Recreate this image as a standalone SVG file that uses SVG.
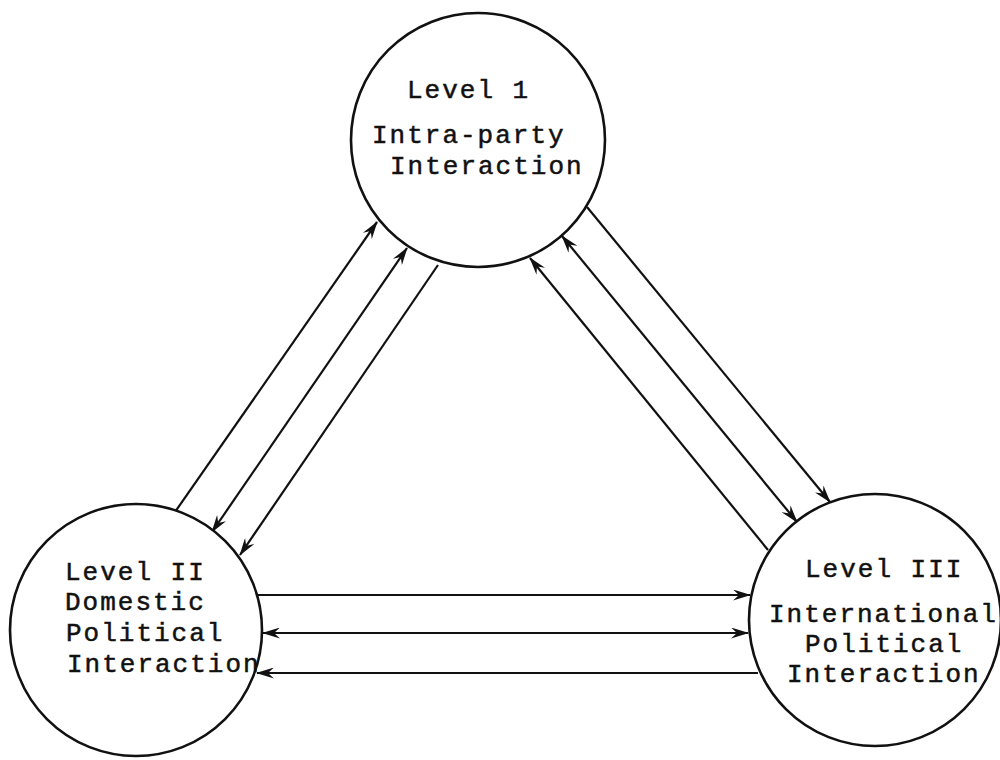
<svg xmlns="http://www.w3.org/2000/svg" width="1000" height="760" viewBox="0 0 1000 760">
<style>
.node circle{fill:#fff;stroke:#111;stroke-width:2.6}
.node text{font-family:"Liberation Mono","Courier New",monospace;font-size:26px;letter-spacing:2px;fill:#111;stroke:#111;stroke-width:0.5}
.conn line{stroke:#111;stroke-width:2.2;fill:none}
.e{marker-end:url(#ah)}
.b{marker-start:url(#ah);marker-end:url(#ah)}
</style>
<defs>
<marker id="ah" viewBox="0 0 18 11" refX="17" refY="5.5" markerUnits="userSpaceOnUse" markerWidth="18" markerHeight="11" orient="auto-start-reverse">
<path d="M0,0 L18,5.5 L0,11 L6,5.5 Z" fill="#111"/>
</marker>
</defs>
<rect width="1000" height="760" fill="#fff"/>
<g id="connectors" class="conn">
<line class="e" x1="175" y1="512" x2="377" y2="222"/>
<line class="b" x1="212" y1="532" x2="407" y2="248"/>
<line class="e" x1="438" y1="265" x2="240" y2="555"/>
<line class="e" x1="587" y1="207" x2="830" y2="502"/>
<line class="b" x1="797" y1="522" x2="562" y2="236"/>
<line class="e" x1="768" y1="550" x2="530" y2="258"/>
<line class="e" x1="258" y1="595" x2="750" y2="595"/>
<line class="b" x1="263" y1="633" x2="748" y2="633"/>
<line class="e" x1="758" y1="673" x2="257" y2="673"/>
</g>
<g id="level1" class="node">
<circle cx="478" cy="140" r="127"/>
<text x="407" y="98">Level 1</text>
<text x="372" y="143">Intra-party</text>
<text x="390" y="174">Interaction</text>
</g>
<g id="level2" class="node">
<circle cx="136" cy="630" r="126"/>
<text x="65" y="580">Level II</text>
<text x="65" y="610">Domestic</text>
<text x="66" y="641">Political</text>
<text x="67" y="672">Interaction</text>
</g>
<g id="level3" class="node">
<circle cx="875" cy="620" r="126"/>
<text x="805" y="577">Level III</text>
<text x="769" y="622">International</text>
<text x="805" y="652">Political</text>
<text x="787" y="682">Interaction</text>
</g>
</svg>
